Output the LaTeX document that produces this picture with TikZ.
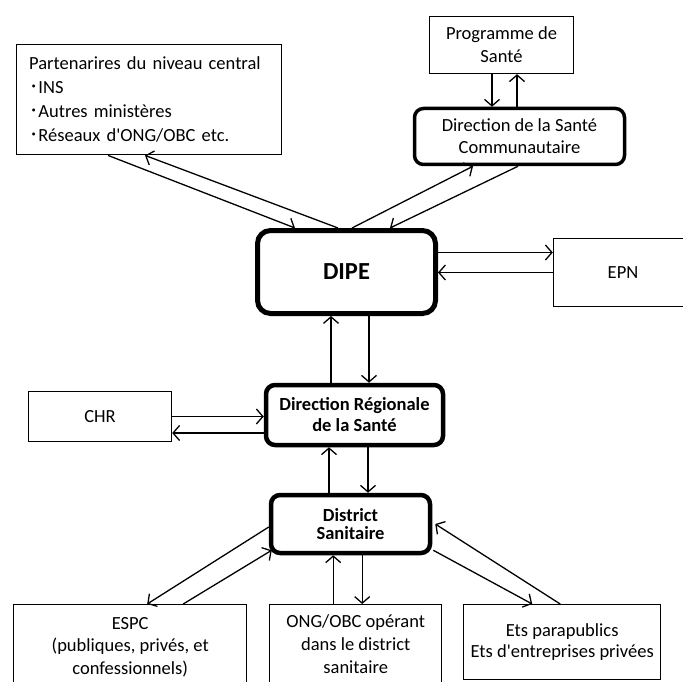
\documentclass[tikz,border=0pt]{standalone}
\usepackage{fontspec}
\setmainfont{Carlito}
\newfontfamily\cjk{Noto Sans CJK JP}
\usepackage{tikz}
\usetikzlibrary{arrows.meta,positioning,calc}
\tikzset{
  box/.style={draw, line width=1.4pt, align=center, inner sep=0pt, font=\fontsize{18.5}{23}\selectfont},
  rbox/.style={box, rounded corners=9pt, line width=3.5pt},
  bbox/.style={rbox, line width=4.5pt, font=\fontsize{18.5}{21}\selectfont\bfseries},
  arr/.style={-{Straight Barb[length=6.5pt,width=15pt]}, line width=1.3pt}
}
\begin{document}
\begin{tikzpicture}[x=1pt,y=-1pt]
	\fill[white] (0,0) rectangle (683,682);
	\useasboundingbox (0,0) rectangle (683,682);
	\node[box, anchor=north west, minimum height=110pt, text width=240pt, inner xsep=12.5pt, align=left, font=\fontsize{18.5}{24}\selectfont] (part) at (16,44) {Partenarires du niveau central\\{\cjk ･}INS\\{\cjk ･}Autres ministères\\{\cjk ･}Réseaux d\textquotesingle ONG/OBC etc.};
	\node[box, minimum width=144pt, minimum height=57pt] (prog) at (501.5,45) {Programme de\\Santé};
	\node[rbox, minimum width=210pt, minimum height=56pt, font=\fontsize{18.5}{22}\selectfont] (dsc) at (519.5,136.5) {Direction de la Santé\\Communautaire};
	\node[bbox, line width=5pt, rounded corners=13pt, minimum width=178pt, minimum height=83pt, font=\fontsize{24.5}{28}\selectfont\bfseries] (dipe) at (346.5,272) {DIPE};
	\node[box, minimum width=139pt, minimum height=68pt] (epn) at (623,272.5) {EPN};
	\node[box, minimum width=143pt, minimum height=50pt] (chr) at (100,416.5) {CHR};
	\node[bbox, minimum width=177pt, minimum height=60pt] (drs) at (354.5,415) {Direction Régionale\\de la Santé};
	\node[bbox, minimum width=159pt, minimum height=58pt, font=\fontsize{18.5}{18.5}\selectfont\bfseries] (ds) at (350.5,524) {District\\Sanitaire};
	\node[box, anchor=north west, minimum width=233pt, minimum height=85pt, font=\fontsize{18.5}{22.5}\selectfont] (espc) at (13,604) {ESPC\\(publiques, privés, et\\confessionnels)};
	\node[box, anchor=north west, minimum width=172pt, minimum height=79pt] (ong) at (269,604) {ONG/OBC opérant\\dans le district\\sanitaire};
	\node[box, anchor=north west, minimum width=197pt, minimum height=75pt, font=\fontsize{18.5}{21}\selectfont] (ets) at (463,604) {Ets parapublics\\Ets d\textquotesingle entreprises privées};
	\draw[arr] ([xshift=92pt]part.south west) -- ([xshift=-51.5pt]dipe.north);
	\draw[arr] ([xshift=-8.5pt]dipe.north) -- ([xshift=129pt]part.south west);
	\draw[arr] ([xshift=-9.5pt]prog.south) -- ([xshift=-9.5pt]prog.south |- dsc.north);
	\draw[arr] ([xshift=15.5pt]prog.south |- dsc.north) -- ([xshift=15.5pt]prog.south);
	\draw[arr] ([xshift=5.5pt]dipe.north) -- ([xshift=-46.5pt]dsc.south);
	\draw[arr] ([xshift=-1.5pt]dsc.south) -- ([xshift=43.5pt]dipe.north);
	\draw[arr] ([yshift=20pt]epn.west -| dipe.east) -- ([yshift=20pt]epn.west);
	\draw[arr] (epn.west) -- (epn.west -| dipe.east);
	\draw[arr] ([xshift=-23.5pt]drs.north) -- ([xshift=-23.5pt]drs.north |- dipe.south);
	\draw[arr] ([xshift=14.5pt]drs.north |- dipe.south) -- ([xshift=14.5pt]drs.north);
	\draw[arr] (chr.east) -- (chr.east -| drs.west);
	\draw[arr] ([yshift=-16.5pt]chr.east -| drs.west) -- ([yshift=-16.5pt]chr.east);
	\draw[arr] ([xshift=-25.5pt]drs.south |- ds.north) -- ([xshift=-25.5pt]drs.south);
	\draw[arr] ([xshift=13.5pt]drs.south) -- ([xshift=13.5pt]drs.south |- ds.north);
	\draw[arr] ([yshift=-3pt]ds.west) -- ([xshift=17pt]espc.north);
	\draw[arr] ([xshift=53pt]espc.north) -- ([shift={(3pt,5pt)}]ds.south west);
	\draw[arr] ([xshift=-22.5pt]ong.north) -- ([xshift=-22.5pt]ong.north |- ds.south);
	\draw[arr] ([xshift=6.5pt]ong.north |- ds.south) -- ([xshift=6.5pt]ong.north);
	\draw[arr] ([shift={(1pt,5pt)}]ds.south east) -- ([xshift=-30pt]ets.north);
	\draw[arr] ([xshift=-2pt]ets.north) -- ([xshift=3pt]ds.east);
\end{tikzpicture}
\end{document}
